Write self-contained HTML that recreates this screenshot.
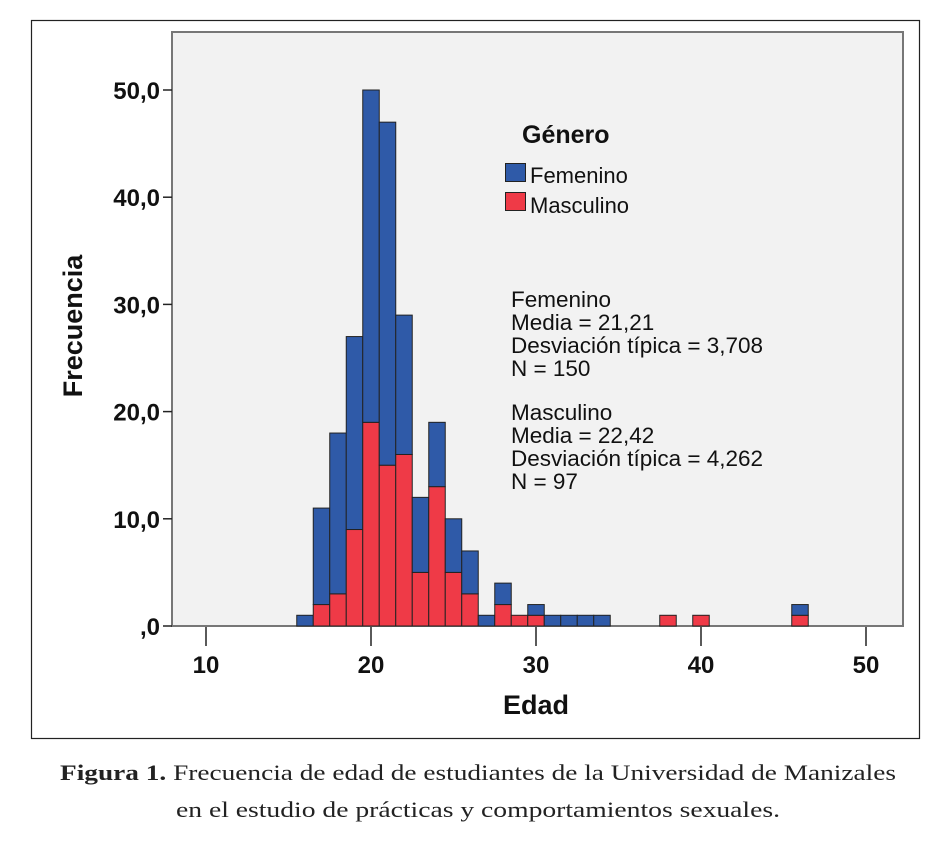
<!DOCTYPE html>
<html><head><meta charset="utf-8">
<style>
body{margin:0;background:#fff;width:938px;height:842px;overflow:hidden}
svg{display:block}
</style></head>
<body>
<svg id="chart" width="938" height="842" xmlns="http://www.w3.org/2000/svg">
<rect x="31.5" y="20.5" width="888" height="718" fill="#fff" stroke="#222" stroke-width="1.2"/>
<rect x="172" y="32" width="731" height="594" fill="#f2f2f2" stroke="#777" stroke-width="2"/>
<g id="bars"></g>
<g id="axes"></g>
<text x="0" y="0" transform="translate(82,326) rotate(-90)" text-anchor="middle" font-family="Liberation Sans, sans-serif" font-weight="bold" font-size="27" fill="#111">Frecuencia</text>
<text x="536" y="714" text-anchor="middle" font-family="Liberation Sans, sans-serif" font-weight="bold" font-size="27" fill="#111">Edad</text>
<g font-family="Liberation Sans, sans-serif" fill="#111">
<text x="522" y="143" font-size="25" font-weight="bold">Género</text>
<g><rect x="505.5" y="163.5" width="20" height="18" fill="#2f5aa8" stroke="#222"/><text x="530" y="183" font-size="22">Femenino</text></g>
<g><rect x="505.5" y="192.5" width="20" height="18" fill="#ef3a47" stroke="#222"/><text x="530" y="213" font-size="22">Masculino</text></g>
</g>
<g font-family="Liberation Sans, sans-serif" font-size="22.5" fill="#111">
<text x="511" y="307">Femenino</text>
<text x="511" y="330">Media = 21,21</text>
<text x="511" y="353">Desviación típica = 3,708</text>
<text x="511" y="376">N = 150</text>
<text x="511" y="420">Masculino</text>
<text x="511" y="443">Media = 22,42</text>
<text x="511" y="466">Desviación típica = 4,262</text>
<text x="511" y="489">N = 97</text>
</g>
<g font-family="Liberation Serif, serif" font-size="22" fill="#222" text-anchor="middle">
<text x="478" y="780" textLength="836" lengthAdjust="spacingAndGlyphs"><tspan font-weight="bold">Figura 1.</tspan> Frecuencia de edad de estudiantes de la Universidad de Manizales</text>
<text x="478" y="817" textLength="604" lengthAdjust="spacingAndGlyphs">en el estudio de prácticas y comportamientos sexuales.</text>
</g>
</svg>
<script>
const ages = [16,17,18,19,20,21,22,23,24,25,26,27,28,29,30,31,32,33,34,38,40,46];
const femenino = [1,9,15,18,31,32,13,7,6,5,4,1,2,0,1,1,1,1,1,0,0,1];
const masculino = [0,2,3,9,19,15,16,5,13,5,3,0,2,1,1,0,0,0,0,1,1,1];
const yTicks = [0,10,20,30,40,50];
const yTickLabels = [",0","10,0","20,0","30,0","40,0","50,0"];
const xTicks = [10,20,30,40,50];

const NS = "http://www.w3.org/2000/svg";
const xS = v => 206 + (v - 10) * 16.5;
const yS = v => 626 - v * 10.72;
const bw = 16.5;
const bars = document.getElementById('bars');
const axes = document.getElementById('axes');
function mk(tag, attrs, parent){const e=document.createElementNS(NS,tag);for(const k in attrs)e.setAttribute(k,attrs[k]);parent.appendChild(e);return e;}

ages.forEach((a,i)=>{
  const m = masculino[i], f = femenino[i];
  if(m>0){
    const r = mk('rect',{x:xS(a)-bw/2,y:yS(m),width:bw,height:yS(0)-yS(m),fill:'#ef3a47',stroke:'#222','stroke-width':1},bars);
    
    
  }
  if(f>0){
    const r = mk('rect',{x:xS(a)-bw/2,y:yS(m+f),width:bw,height:yS(m)-yS(m+f),fill:'#2f5aa8',stroke:'#222','stroke-width':1},bars);
    
    
  }
});

yTicks.forEach((v,i)=>{
  const l = mk('line',{x1:163,x2:172,y1:yS(v),y2:yS(v),stroke:'#222','stroke-width':1.5},axes);
  
  
  const t = mk('text',{x:160,y:yS(v)+9,'text-anchor':'end','font-family':'Liberation Sans, sans-serif','font-size':24,'font-weight':'bold',fill:'#111'},axes);
  t.textContent = yTickLabels[i];
  
  
});
xTicks.forEach(v=>{
  const l = mk('line',{x1:xS(v),x2:xS(v),y1:627,y2:646,stroke:'#222','stroke-width':1.5},axes);
  
  
  const t = mk('text',{x:xS(v),y:673,'text-anchor':'middle','font-family':'Liberation Sans, sans-serif','font-size':24,'font-weight':'bold',fill:'#111'},axes);
  t.textContent = v;
  
  
});
</script>
</body></html>
